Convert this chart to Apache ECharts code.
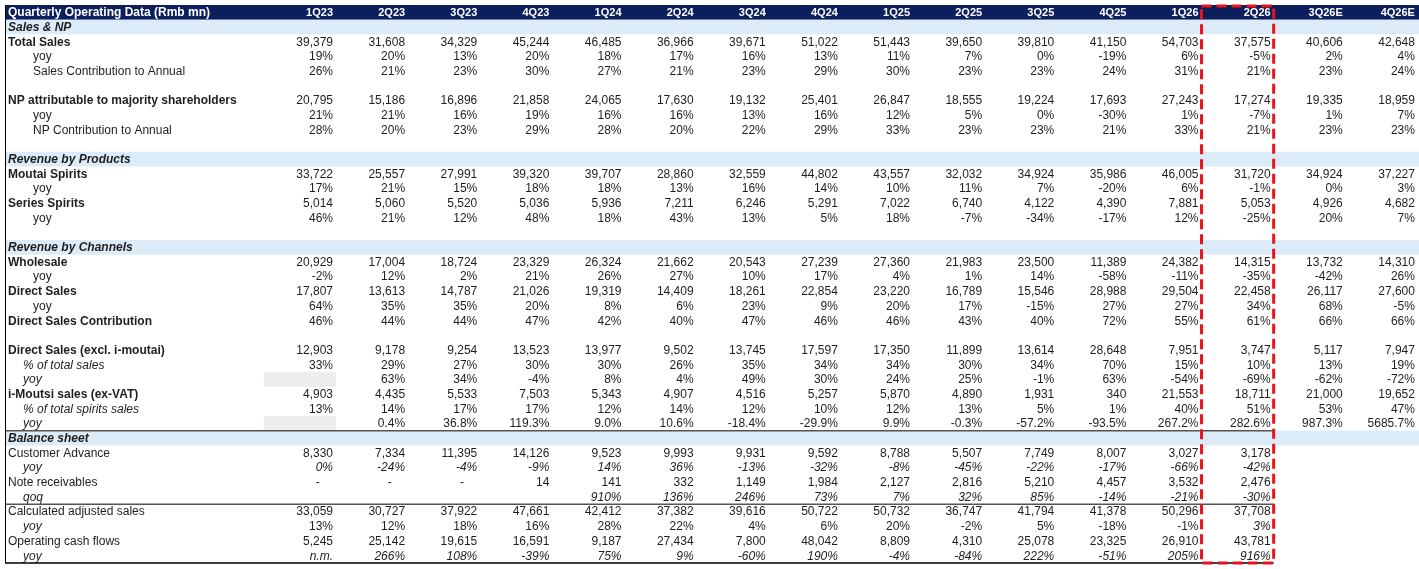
<!DOCTYPE html>
<html>
<head>
  <meta charset="utf-8">
  <title>Quarterly Operating Data</title>
  <script src="https://cdn.jsdelivr.net/npm/echarts@6/dist/echarts.min.js"></script>
  <style>html, body { margin: 0; padding: 0; background: #fff; }</style>
</head>
<body>
  <div id="main" style="width: 1419px; height: 569px;"></div>
  <script type="text/javascript">
    // column headers
    var quarters = ['1Q23', '2Q23', '3Q23', '4Q23', '1Q24', '2Q24', '3Q24', '4Q24',
      '1Q25', '2Q25', '3Q25', '4Q25', '1Q26', '2Q26', '3Q26E', '4Q26E'];

    // Sales & NP
    var totalSales = [39379, 31608, 34329, 45244, 46485, 36966, 39671, 51022, 51443, 39650, 39810, 41150, 54703, 37575, 40606, 42648];
    var totalSalesYoy = [19, 20, 13, 20, 18, 17, 16, 13, 11, 7, 0, -19, 6, -5, 2, 4];
    var salesContribution = [26, 21, 23, 30, 27, 21, 23, 29, 30, 23, 23, 24, 31, 21, 23, 24];
    var netProfit = [20795, 15186, 16896, 21858, 24065, 17630, 19132, 25401, 26847, 18555, 19224, 17693, 27243, 17274, 19335, 18959];
    var netProfitYoy = [21, 21, 16, 19, 16, 16, 13, 16, 12, 5, 0, -30, 1, -7, 1, 7];
    var npContribution = [28, 20, 23, 29, 28, 20, 22, 29, 33, 23, 23, 21, 33, 21, 23, 23];

    // Revenue by products
    var moutaiSpirits = [33722, 25557, 27991, 39320, 39707, 28860, 32559, 44802, 43557, 32032, 34924, 35986, 46005, 31720, 34924, 37227];
    var moutaiYoy = [17, 21, 15, 18, 18, 13, 16, 14, 10, 11, 7, -20, 6, -1, 0, 3];
    var seriesSpirits = [5014, 5060, 5520, 5036, 5936, 7211, 6246, 5291, 7022, 6740, 4122, 4390, 7881, 5053, 4926, 4682];
    var seriesYoy = [46, 21, 12, 48, 18, 43, 13, 5, 18, -7, -34, -17, 12, -25, 20, 7];

    // Revenue by channels
    var wholesale = [20929, 17004, 18724, 23329, 26324, 21662, 20543, 27239, 27360, 21983, 23500, 11389, 24382, 14315, 13732, 14310];
    var wholesaleYoy = [-2, 12, 2, 21, 26, 27, 10, 17, 4, 1, 14, -58, -11, -35, -42, 26];
    var directSales = [17807, 13613, 14787, 21026, 19319, 14409, 18261, 22854, 23220, 16789, 15546, 28988, 29504, 22458, 26117, 27600];
    var directYoy = [64, 35, 35, 20, 8, 6, 23, 9, 20, 17, -15, 27, 27, 34, 68, -5];
    var directContribution = [46, 44, 44, 47, 42, 40, 47, 46, 46, 43, 40, 72, 55, 61, 66, 66];
    var directExcl = [12903, 9178, 9254, 13523, 13977, 9502, 13745, 17597, 17350, 11899, 13614, 28648, 7951, 3747, 5117, 7947];
    var directExclShare = [33, 29, 27, 30, 30, 26, 35, 34, 34, 30, 34, 70, 15, 10, 13, 19];
    var directExclYoy = [null, 63, 34, -4, 8, 4, 49, 30, 24, 25, -1, 63, -54, -69, -62, -72];
    var iMoutai = [4903, 4435, 5533, 7503, 5343, 4907, 4516, 5257, 5870, 4890, 1931, 340, 21553, 18711, 21000, 19652];
    var iMoutaiShare = [13, 14, 17, 17, 12, 14, 12, 10, 12, 13, 5, 1, 40, 51, 53, 47];
    var iMoutaiYoy = [null, 0.4, 36.8, 119.3, 9.0, 10.6, -18.4, -29.9, 9.9, -0.3, -57.2, -93.5, 267.2, 282.6, 987.3, 5685.7];

    // Balance sheet
    var customerAdvance = [8330, 7334, 11395, 14126, 9523, 9993, 9931, 9592, 8788, 5507, 7749, 8007, 3027, 3178];
    var customerAdvanceYoy = [0, -24, -4, -9, 14, 36, -13, -32, -8, -45, -22, -17, -66, -42];
    var noteReceivables = ['-', '-', '-', 14, 141, 332, 1149, 1984, 2127, 2816, 5210, 4457, 3532, 2476];
    var noteReceivablesQoq = [null, null, null, null, 910, 136, 246, 73, 7, 32, 85, -14, -21, -30];
    var adjustedSales = [33059, 30727, 37922, 47661, 42412, 37382, 39616, 50722, 50732, 36747, 41794, 41378, 50296, 37708];
    var adjustedSalesYoy = [13, 12, 18, 16, 28, 22, 4, 6, 20, -2, 5, -18, -1, 3];
    var operatingCashFlow = [5245, 25142, 19615, 16591, 9187, 27434, 7800, 48042, 8809, 4310, 25078, 23325, 26910, 43781];
    var operatingCashFlowYoy = ['n.m.', 266, 108, -39, 75, 9, -60, 190, -4, -84, 222, -51, 205, 916];

    // row layout: kind decides the look, fmt the number format
    var rows = [
      { kind: 'header', label: 'Quarterly Operating Data (Rmb mn)', values: quarters, fmt: 'text' },
      { kind: 'section', label: 'Sales & NP' },
      { kind: 'main', label: 'Total Sales', values: totalSales, fmt: 'int' },
      { kind: 'sub', label: 'yoy', values: totalSalesYoy, fmt: 'pct' },
      { kind: 'sub', label: 'Sales Contribution to Annual', values: salesContribution, fmt: 'pct' },
      { kind: 'blank' },
      { kind: 'main', label: 'NP attributable to majority shareholders', values: netProfit, fmt: 'int' },
      { kind: 'sub', label: 'yoy', values: netProfitYoy, fmt: 'pct' },
      { kind: 'sub', label: 'NP Contribution to Annual', values: npContribution, fmt: 'pct' },
      { kind: 'blank' },
      { kind: 'section', label: 'Revenue by Products' },
      { kind: 'main', label: 'Moutai Spirits', values: moutaiSpirits, fmt: 'int' },
      { kind: 'sub', label: 'yoy', values: moutaiYoy, fmt: 'pct' },
      { kind: 'main', label: 'Series Spirits', values: seriesSpirits, fmt: 'int' },
      { kind: 'sub', label: 'yoy', values: seriesYoy, fmt: 'pct' },
      { kind: 'blank' },
      { kind: 'section', label: 'Revenue by Channels' },
      { kind: 'main', label: 'Wholesale', values: wholesale, fmt: 'int' },
      { kind: 'sub', label: 'yoy', values: wholesaleYoy, fmt: 'pct' },
      { kind: 'main', label: 'Direct Sales', values: directSales, fmt: 'int' },
      { kind: 'sub', label: 'yoy', values: directYoy, fmt: 'pct' },
      { kind: 'main', label: 'Direct Sales Contribution', values: directContribution, fmt: 'pct' },
      { kind: 'blank' },
      { kind: 'main', label: 'Direct Sales (excl. i-moutai)', values: directExcl, fmt: 'int' },
      { kind: 'subI', label: '% of total sales', values: directExclShare, fmt: 'pct' },
      { kind: 'subI', label: 'yoy', values: directExclYoy, fmt: 'pct', grey: true },
      { kind: 'main', label: 'i-Moutsi sales (ex-VAT)', values: iMoutai, fmt: 'int' },
      { kind: 'subI', label: '% of total spirits sales', values: iMoutaiShare, fmt: 'pct' },
      { kind: 'subI', label: 'yoy', values: iMoutaiYoy, fmt: 'pct1', grey: true, rule: true },
      { kind: 'section', label: 'Balance sheet' },
      { kind: 'plain', label: 'Customer Advance', values: customerAdvance, fmt: 'int' },
      { kind: 'subII', label: 'yoy', values: customerAdvanceYoy, fmt: 'pct' },
      { kind: 'plain', label: 'Note receivables', values: noteReceivables, fmt: 'int' },
      { kind: 'subII', label: 'qoq', values: noteReceivablesQoq, fmt: 'pct', rule: true },
      { kind: 'plain', label: 'Calculated adjusted sales', values: adjustedSales, fmt: 'int' },
      { kind: 'subI', label: 'yoy', values: adjustedSalesYoy, fmt: 'pct', italicCols: [13] },
      { kind: 'plain', label: 'Operating cash flows', values: operatingCashFlow, fmt: 'int' },
      { kind: 'subII', label: 'yoy', values: operatingCashFlowYoy, fmt: 'pct', rule: true, ruleColor: '#000' }
    ];

    var HIGHLIGHT_COL = 13;        // 2Q26, boxed in red
    var X_MIN = -3.589, X_MAX = 16.015;
    var FONT = '"Liberation Sans", Arial, sans-serif';

    function fmt(v, f) {
      if (typeof v === 'string') return v === '-' ? '-    ' : v;
      if (f === 'int') return v.toLocaleString('en-US');
      if (f === 'pct') return v.toFixed(0) + '%';
      if (f === 'pct1') return v.toFixed(1) + '%';
      return String(v);
    }

    var rowIds = rows.map(function (r, i) { return i; });

    // one entry per piece of text
    var cells = [];
    rows.forEach(function (r, i) {
      if (r.label) cells.push({ row: i, col: -1, text: r.label, kind: r.kind, isLabel: true });
      if (!r.values) return;
      r.values.forEach(function (v, k) {
        if (v === null || v === undefined) return;
        var it = r.kind === 'subII' || (r.italicCols && r.italicCols.indexOf(k) >= 0);
        cells.push({ row: i, col: k, text: fmt(v, r.fmt), kind: r.kind, isLabel: false, italic: it });
      });
    });

    var bands = [], greyCells = [], rules = [];
    rows.forEach(function (r, i) {
      if (r.kind === 'header' || r.kind === 'section') bands.push([i, r.kind]);
      if (r.grey) greyCells.push([0, i]);
      if (r.rule) rules.push([i, r.ruleColor || '#555']);
    });

    var myChart = echarts.init(document.getElementById('main'));

    function bandRender(params, api) {
      var row = api.value(0);
      var y = api.coord([0, row])[1];
      var h = api.size([0, 1])[1];
      var cs = params.coordSys;
      var kind = bands[params.dataIndex][1];
      return {
        type: 'rect',
        shape: { x: cs.x, y: y - h / 2, width: cs.width, height: h },
        style: { fill: kind === 'header' ? '#0c1f5c' : '#dcebf8' }
      };
    }

    function greyRender(params, api) {
      var p0 = api.coord([api.value(0), api.value(1)]);
      var p1 = api.coord([api.value(0) + 1, api.value(1)]);
      var h = api.size([0, 1])[1];
      return {
        type: 'rect',
        shape: { x: p0[0], y: p0[1] - h / 2, width: p1[0] - p0[0], height: h },
        style: { fill: '#ededed' }
      };
    }

    function textRender(params, api) {
      var c = cells[params.dataIndex];
      var p = api.coord([api.value(0), api.value(1)]);
      var header = c.kind === 'header';
      var dx = 0, weight = 'normal', style = 'normal', size = 12;
      var color = header ? '#ffffff' : '#1e1e1e';
      if (c.isLabel) {
        if (c.kind === 'main' || c.kind === 'header' || c.kind === 'section') weight = 'bold';
        if (c.kind === 'section' || c.kind === 'subI' || c.kind === 'subII') style = 'italic';
        dx = (c.kind === 'sub') ? 28 : (c.kind === 'subI' || c.kind === 'subII') ? 18 : 3;
      } else {
        dx = -3;
        if (header) { weight = 'bold'; size = 11; }
        if (c.italic) style = 'italic';
      }
      return {
        type: 'text',
        x: p[0] + dx,
        y: p[1] + 0.5,
        style: {
          text: c.text,
          fill: color,
          fontFamily: FONT,
          fontSize: size,
          fontWeight: weight,
          fontStyle: style,
          align: c.isLabel ? 'left' : 'right',
          verticalAlign: 'middle'
        }
      };
    }

    function ruleRender(params, api) {
      var row = api.value(0);
      var y = api.coord([0, row])[1] + api.size([0, 1])[1] / 2;
      var xEnd = api.coord([HIGHLIGHT_COL + 1, row])[0];
      var cs = params.coordSys;
      return {
        type: 'line',
        shape: { x1: cs.x, y1: y, x2: xEnd, y2: y },
        style: { stroke: rules[params.dataIndex][1], lineWidth: 1.5 }
      };
    }

    function frameRender(params, api) {
      var cs = params.coordSys;
      var last = rows.length - 1;
      var h = api.size([0, 1])[1];
      var tl = api.coord([HIGHLIGHT_COL, 0]);
      var br = api.coord([HIGHLIGHT_COL + 1, last]);
      return {
        type: 'group',
        children: [
          {
            type: 'line',
            shape: { x1: cs.x + 0.5, y1: cs.y, x2: cs.x + 0.5, y2: br[1] + h / 2 },
            style: { stroke: '#000', lineWidth: 1 }
          },
          {
            type: 'rect',
            shape: { x: tl[0], y: tl[1] - h / 2 + 1, width: br[0] - tl[0], height: br[1] - tl[1] + h - 1 },
            style: { fill: 'none', stroke: '#e8141b', lineWidth: 3, lineDash: [10, 5] }
          }
        ]
      };
    }

    myChart.setOption({
      animation: false,
      grid: { left: 5, right: 0, top: 5, bottom: 6 },
      xAxis: { type: 'value', min: X_MIN, max: X_MAX, show: false },
      yAxis: { type: 'category', data: rowIds, inverse: true, show: false },
      series: [
        {
          type: 'custom', renderItem: bandRender, clip: false,
          encode: { x: -1, y: 0 },
          data: bands.map(function (b) { return [b[0]]; })
        },
        {
          type: 'custom', renderItem: greyRender, clip: false,
          encode: { x: 0, y: 1 },
          data: greyCells
        },
        {
          type: 'custom', renderItem: textRender, clip: false,
          encode: { x: 0, y: 1 },
          data: cells.map(function (c) { return [c.isLabel ? X_MIN : c.col + 1, c.row]; })
        },
        {
          type: 'custom', renderItem: ruleRender, clip: false,
          encode: { x: -1, y: 0 },
          data: rules.map(function (r) { return [r[0]]; })
        },
        {
          type: 'custom', renderItem: frameRender, clip: false,
          data: [[HIGHLIGHT_COL, 0]]
        }
      ]
    });
  </script>
</body>
</html>
